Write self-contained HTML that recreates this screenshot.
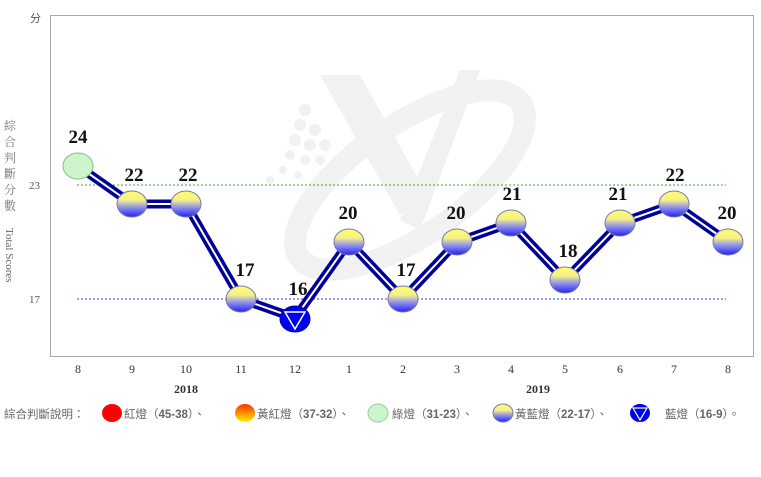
<!DOCTYPE html>
<html><head><meta charset="utf-8"><style>
html,body{margin:0;padding:0;background:#fff;}
svg{display:block;}
</style></head><body>
<svg width="761" height="477" viewBox="0 0 761 477" xmlns="http://www.w3.org/2000/svg">
<defs>
<linearGradient id="yb" x1="0" y1="0" x2="0" y2="1">
<stop offset="0" stop-color="#ffff66"/><stop offset="0.35" stop-color="#f4f08a"/><stop offset="0.65" stop-color="#8a8af0"/><stop offset="1" stop-color="#2222ee"/>
</linearGradient>
<linearGradient id="yr" x1="0" y1="0" x2="0" y2="1">
<stop offset="0" stop-color="#ff3300"/><stop offset="1" stop-color="#ffee00"/>
</linearGradient>
</defs>
<g fill="#f1f1f1">
<ellipse cx="410" cy="180" rx="135" ry="55" transform="rotate(-35 410 180)" fill="none" stroke="#f2f2f2" stroke-width="22"/>
<polygon points="320,75 360,75 430,200 400,215"/>
<polygon points="460,70 480,70 420,230 400,220"/>
<circle cx="305" cy="110" r="6"/><circle cx="300" cy="125" r="6"/><circle cx="315" cy="130" r="6"/>
<circle cx="295" cy="140" r="6"/><circle cx="310" cy="145" r="6"/><circle cx="325" cy="145" r="6"/>
<circle cx="290" cy="155" r="5"/><circle cx="305" cy="160" r="5"/><circle cx="320" cy="160" r="5"/>
<circle cx="283" cy="170" r="4"/><circle cx="298" cy="175" r="4"/><circle cx="270" cy="180" r="4"/>
</g>
<rect x="50.5" y="15.5" width="703" height="341" fill="none" stroke="#aaaaaa" stroke-width="1"/>
<line x1="77" y1="185" x2="726" y2="185" stroke="#33aa33" stroke-width="1" stroke-dasharray="2,2"/>
<line x1="77" y1="299" x2="726" y2="299" stroke="#3333ee" stroke-width="1" stroke-dasharray="2,2"/>
<g font-family="Liberation Serif, serif" font-size="11" fill="#555">
<text x="30" y="22">分</text>
<text x="29" y="189">23</text>
<text x="29" y="303">17</text>
</g>
<g font-family="Liberation Serif,'Noto Serif CJK SC',serif" font-size="12" fill="#777" text-anchor="middle">
<text x="10" y="130">綜</text><text x="10" y="146">合</text><text x="10" y="162">判</text><text x="10" y="178">斷</text><text x="10" y="194">分</text><text x="10" y="210">數</text>
</g>
<text transform="translate(6,228) rotate(90)" font-family="Liberation Serif,serif" font-size="11" fill="#666">Total Scores</text>
<polyline points="78,166 132,204 186,204 241,299 295,318 349,242 403,299 457,242 511,223 565,280 620,223 674,204 728,242" fill="none" stroke="#000099" stroke-width="9" stroke-linejoin="round"/>
<polyline points="78,166 132,204 186,204 241,299 295,318 349,242 403,299 457,242 511,223 565,280 620,223 674,204 728,242" fill="none" stroke="#ffffff" stroke-width="2" stroke-linejoin="round"/>
<ellipse cx="78" cy="166" rx="15" ry="13" fill="#ccf5cc" stroke="#88bb88" stroke-width="1"/>
<g fill="url(#yb)" stroke="#7777aa" stroke-width="1">
<ellipse cx="132" cy="204" rx="15" ry="13"/><ellipse cx="186" cy="204" rx="15" ry="13"/>
<ellipse cx="241" cy="299" rx="15" ry="13"/><ellipse cx="349" cy="242" rx="15" ry="13"/>
<ellipse cx="403" cy="299" rx="15" ry="13"/><ellipse cx="457" cy="242" rx="15" ry="13"/>
<ellipse cx="511" cy="223" rx="15" ry="13"/><ellipse cx="565" cy="280" rx="15" ry="13"/>
<ellipse cx="620" cy="223" rx="15" ry="13"/><ellipse cx="674" cy="204" rx="15" ry="13"/>
<ellipse cx="728" cy="242" rx="15" ry="13"/>
</g>
<ellipse cx="295" cy="319" rx="15" ry="13" fill="#0000ee" stroke="#0000aa"/>
<polygon points="285,312 305,312 295,329" fill="none" stroke="#fff" stroke-width="1.5"/>
<g font-family="Liberation Serif,serif" font-size="19" font-weight="bold" fill="#111" text-anchor="middle">
<text x="78" y="143">24</text><text x="134" y="181">22</text><text x="188" y="181">22</text>
<text x="245" y="276">17</text><text x="298" y="295">16</text><text x="348" y="219">20</text>
<text x="406" y="276">17</text><text x="456" y="219">20</text><text x="512" y="200">21</text>
<text x="568" y="257">18</text><text x="618" y="200">21</text><text x="675" y="181">22</text>
<text x="727" y="219">20</text>
</g>
<g font-family="Liberation Serif,serif" font-size="12" fill="#333" text-anchor="middle">
<text x="78" y="373">8</text><text x="132" y="373">9</text><text x="186" y="373">10</text>
<text x="241" y="373">11</text><text x="295" y="373">12</text><text x="349" y="373">1</text>
<text x="403" y="373">2</text><text x="457" y="373">3</text><text x="511" y="373">4</text>
<text x="565" y="373">5</text><text x="620" y="373">6</text><text x="674" y="373">7</text>
<text x="728" y="373">8</text>
<text x="186" y="393" font-weight="bold">2018</text>
<text x="538" y="393" font-weight="bold">2019</text>
</g>
<g font-family="Liberation Sans,'Noto Sans CJK TC',sans-serif" font-size="11.5" fill="#666">
<text x="4" y="418">綜合判斷說明：</text>
<ellipse cx="112" cy="413" rx="10" ry="9" fill="#ff0000"/>
<text x="124" y="418">紅燈（<tspan font-weight="bold">45-38</tspan>）、</text>
<ellipse cx="245" cy="413" rx="10" ry="9" fill="url(#yr)"/>
<text x="257" y="418">黃紅燈（<tspan font-weight="bold">37-32</tspan>）、</text>
<ellipse cx="378" cy="413" rx="10" ry="9" fill="#ccf5cc" stroke="#99cc99"/>
<text x="392" y="418">綠燈（<tspan font-weight="bold">31-23</tspan>）、</text>
<ellipse cx="503" cy="413" rx="10" ry="9" fill="url(#yb)" stroke="#7777aa"/>
<text x="515" y="418">黃藍燈（<tspan font-weight="bold">22-17</tspan>）、</text>
<ellipse cx="640" cy="413" rx="10" ry="9" fill="#0000ee"/>
<polygon points="633,408 647,408 640,420" fill="none" stroke="#fff" stroke-width="1.2"/>
<text x="665" y="418">藍燈（<tspan font-weight="bold">16-9</tspan>）。</text>
</g>
</svg>
</body></html>
